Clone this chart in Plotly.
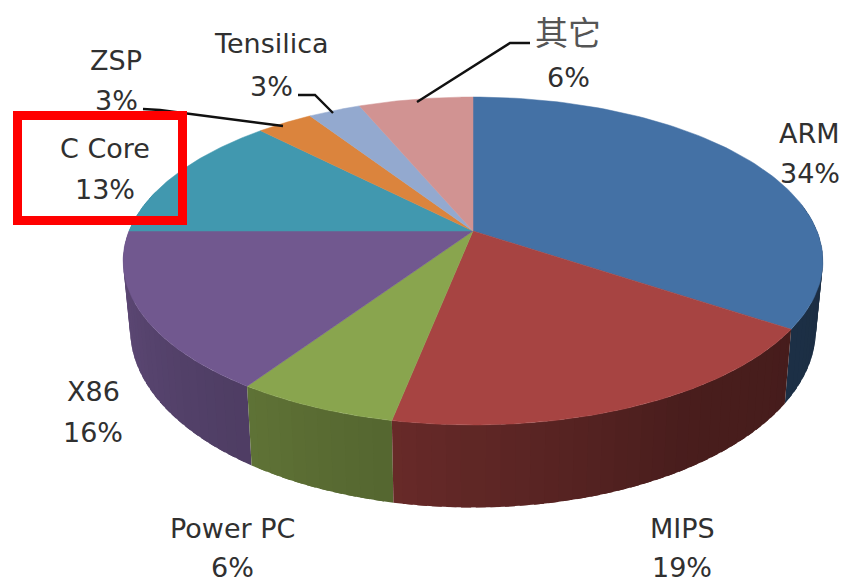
import numpy as np
import plotly.graph_objects as go

categories = ["ARM", "MIPS", "Power PC", "X86", "C Core", "ZSP", "Tensilica", "其它"]
values = [34.4, 18.7, 6.3, 15.6, 12.7, 3.1, 2.9, 6.3]
top_colors = ["#4471A5", "#A74442", "#89A54E", "#71588F", "#4198AF", "#DB843D", "#93A9CF", "#D19392"]

# perspective projection of the pie disc onto the picture
CX, CY, A, B, K = 473, 231, 344, 158.5, 0.183
SX, SY, DY = 0.98, 1.085, 66
TEXT = "#303030"


def top(theta):
    x, y = np.sin(theta), np.cos(theta)
    d = 1 + K * y
    return CX + A * x / d, CY - B * y / d


def bottom(theta):
    x, y = np.sin(theta), np.cos(theta)
    d = 1 + K * y
    return CX + A * SX * x / d, CY + DY - B * SY * y / d


def shade(deg):
    # wall brightness as a function of the direction it faces
    return float(np.interp(deg, [90, 150, 190, 215, 250, 285], [0.40, 0.44, 0.62, 0.70, 0.80, 0.90]))


def mix(color, f):
    r, g, b = int(color[1:3], 16), int(color[3:5], 16), int(color[5:7], 16)
    return f"rgb({int(r * f)},{int(g * f)},{int(b * f)})"


fig = go.Figure()
edges = np.concatenate([[0], np.cumsum(values)]) / sum(values) * 2 * np.pi

# side walls, overlapping slightly inside each slice so no seams show
segments = []
OVER = np.radians(0.7)
for i, c in enumerate(top_colors):
    a0, a1 = edges[i], edges[i + 1]
    lo, hi = max(a0, np.radians(80)), min(a1, np.radians(285))
    if hi <= lo:
        continue
    n = max(1, int(np.degrees(hi - lo) / 2))
    grid = np.linspace(lo, hi, n + 1)
    for t0, t1 in zip(grid[:-1], grid[1:]):
        segments.append((t0, t1, mix(c, shade(np.degrees((t0 + t1) / 2))), lo, hi))
# front-most drawn last
for t0, t1, col, lo, hi in sorted(segments, key=lambda s: np.cos((s[0] + s[1]) / 2), reverse=True):
    th = np.array([max(lo, t0 - OVER), min(hi, t1 + OVER)])
    xt, yt = top(th)
    xb, yb = bottom(th[::-1])
    fig.add_trace(go.Scatter(
        x=np.concatenate([xt, xb]), y=np.concatenate([yt, yb]), mode="lines",
        fill="toself", fillcolor=col, line=dict(width=0),
        hoverinfo="skip", showlegend=False))

# top face
for i, c in enumerate(top_colors):
    th = np.linspace(edges[i], edges[i + 1], 90)
    xs, ys = top(th)
    fig.add_trace(go.Scatter(
        x=np.concatenate([[CX], xs, [CX]]), y=np.concatenate([[CY], ys, [CY]]),
        mode="lines", fill="toself", fillcolor=c, line=dict(color=c, width=0.5),
        name=categories[i], hoverinfo="skip", showlegend=False))

# leader lines
for lx, ly in [([143, 160, 283], [109, 110, 126]),
               ([298, 315, 333], [95, 95, 113]),
               ([530, 510, 417], [43, 43, 102])]:
    fig.add_trace(go.Scatter(x=lx, y=ly, mode="lines", line=dict(color="#111111", width=2.4),
                             hoverinfo="skip", showlegend=False))

# labels: name line and percent line
label_pos = {
    "ARM": (809, 133, 810, 173),
    "MIPS": (682, 528, 682, 567),
    "Power PC": (232, 528, 232, 567),
    "X86": (93, 391, 93, 432),
    "C Core": (105, 148, 105, 189),
    "ZSP": (116, 60, 116, 100),
    "Tensilica": (271, 43, 271, 86),
    "其它": (568, 31, 568, 77),
}
for name, v in zip(categories, values):
    x1, y1, x2, y2 = label_pos[name]
    cjk = name == "其它"
    fig.add_annotation(x=x1, y=y1, text=name, showarrow=False,
                       font=dict(family="Noto Sans CJK SC" if cjk else "DejaVu Sans",
                                 size=33 if cjk else 27, color="#555555" if cjk else TEXT))
    fig.add_annotation(x=x2, y=y2, text=f"{round(v)}%", showarrow=False,
                       font=dict(family="DejaVu Sans", size=27, color=TEXT))

fig.add_shape(type="rect", x0=17.5, x1=182.5, y0=115.5, y1=220.5,
              line=dict(color="#FF0000", width=9), fillcolor="rgba(0,0,0,0)", layer="above")

fig.update_layout(
    width=847, height=583, margin=dict(l=0, r=0, t=0, b=0),
    paper_bgcolor="white", plot_bgcolor="white", showlegend=False,
    xaxis=dict(range=[0, 847], visible=False, fixedrange=True),
    yaxis=dict(range=[583, 0], visible=False, fixedrange=True),
)
fig.write_html("out.html", config=dict(displayModeBar=False),
               post_script="document.body.style.margin='0';document.body.style.overflow='hidden';")
